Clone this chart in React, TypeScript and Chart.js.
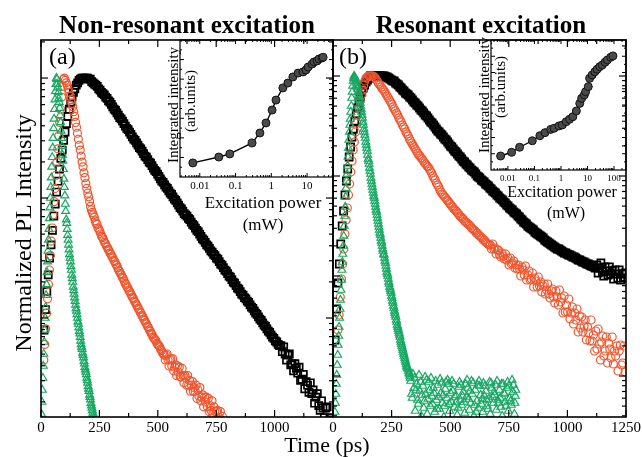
import React, { useEffect, useRef } from "react";
import { Chart, registerables } from "chart.js";
Chart.register(...registerables);

const W = 642;
const H = 457;
const SERIF = '"Liberation Serif", "Times New Roman", Times, serif';
const GREEN = "#16a862";
const RED = "#f0552d";
const BLACK = "#000000";

// Time-resolved PL, sampled on uniform time bins: time = start + i * step (ps),
// values are log10 of the normalized PL intensity read off the figure.

// ---------- Panel (a) non-resonant ----------
const aGreenStart = 2, aGreenStep = 2;
const aGreenLog = [
  -2.80,-2.70,-2.60,-2.50,-2.40,-2.30,-2.20,-2.10,-2.00,-1.91,-1.81,-1.72,-1.62,-1.53,-1.44,-1.35,-1.26,-1.17,-1.08,-1.00,-0.91,-0.83,-0.74,-0.66,-0.58,-0.50,-0.42,-0.34,-0.26,-0.18,-0.11,-0.05,0,
  -0.01,-0.05,-0.08,-0.12,-0.17,-0.20,-0.25,-0.31,-0.37,-0.44,-0.50,-0.57,-0.64,-0.69,-0.76,-0.84,-0.91,-0.98,-1.05,-1.11,-1.18,-1.21,-1.26,-1.31,-1.35,-1.39,-1.43,-1.47,-1.50,-1.53,-1.57,-1.60,-1.64,-1.67,-1.70,-1.74,-1.77,-1.80,-1.83,-1.86,-1.89,-1.92,-1.94,-1.97,-2.00,-2.03,-2.05,-2.08,-2.11,-2.13,-2.16,-2.19,-2.22,-2.24,-2.26,-2.29,-2.31,-2.33,-2.36,-2.38,-2.41,-2.43,-2.45,-2.47,-2.50,-2.52,-2.54,-2.57,-2.59,-2.61,-2.64,-2.66,-2.68,-2.71,-2.73,-2.75,-2.77,-2.79,-2.81,-2.83,-2.85,-2.87,
];
const aRedStart = 12, aRedStep = 4;
const aRedLog = [
  -2.35,-2.22,-2.09,-1.96,-1.84,-1.72,-1.60,-1.48,-1.36,-1.25,-1.14,-1.03,-0.92,-0.81,-0.70,-0.59,-0.48,-0.37,-0.26,-0.16,-0.07,-0.01,
  0,-0.02,-0.04,-0.06,-0.09,-0.12,-0.15,-0.18,-0.21,-0.24,-0.28,-0.32,-0.37,-0.41,-0.46,-0.51,-0.56,-0.60,-0.65,-0.70,-0.74,-0.79,-0.83,-0.88,-0.92,-0.96,-0.99,-1.03,-1.07,-1.10,-1.12,-1.14,-1.16,-1.19,-1.21,-1.22,-1.25,-1.26,-1.28,-1.30,-1.32,-1.33,-1.35,-1.37,-1.38,-1.40,-1.41,-1.43,-1.44,-1.46,-1.47,-1.49,-1.50,-1.52,-1.53,-1.55,-1.56,-1.58,-1.60,-1.61,-1.63,-1.64,-1.66,-1.67,-1.69,-1.71,-1.72,-1.74,-1.75,-1.77,-1.78,-1.80,-1.81,-1.83,-1.84,-1.86,-1.87,-1.89,-1.90,-1.92,-1.93,-1.95,-1.96,-1.98,-1.99,-2.01,-2.02,-2.04,-2.05,-2.07,-2.08,-2.10,-2.11,-2.13,-2.14,-2.16,-2.17,-2.18,-2.19,-2.21,-2.22,-2.23,-2.24,-2.26,-2.27,-2.29,-2.30,
  -2.31,-2.35,-2.31,-2.30,-2.35,-2.40,-2.35,-2.34,-2.40,-2.34,-2.44,-2.41,-2.39,-2.48,-2.40,-2.45,-2.41,-2.49,-2.49,-2.42,-2.48,-2.54,-2.48,-2.50,-2.56,-2.48,-2.56,-2.52,-2.61,-2.56,-2.53,-2.61,-2.58,-2.61,-2.56,-2.67,-2.60,-2.65,-2.58,-2.69,-2.66,-2.64,-2.74,-2.66,-2.70,-2.66,-2.74,-2.67,-2.78,-2.73,-2.77,-2.69,-2.80,-2.74,-2.78,-2.85,-2.78,-2.77,-2.85,-2.83,-2.78,-2.89,-2.82,-2.88,
];
const aBlackStart = 13, aBlackStep = 6;
const aBlackLog = [
  -2.10,-1.93,-1.78,-1.64,-1.50,-1.39,-1.27,-1.15,-1.05,-0.95,-0.86,-0.76,-0.67,-0.60,-0.52,-0.45,-0.38,-0.32,-0.26,-0.21,-0.16,-0.12,-0.09,-0.06,-0.04,-0.02,-0.01,0,0,0,0,0,-0.01,-0.01,-0.03,-0.04,-0.05,-0.06,-0.07,-0.09,-0.10,-0.12,-0.13,-0.14,-0.16,-0.17,-0.19,-0.20,-0.22,-0.24,-0.26,-0.27,-0.29,-0.31,-0.33,-0.34,-0.36,-0.38,-0.40,-0.42,-0.43,-0.45,-0.47,-0.49,-0.51,-0.52,-0.54,-0.56,-0.58,-0.59,-0.61,-0.63,-0.65,-0.66,-0.68,-0.70,-0.71,-0.73,-0.75,-0.77,-0.78,-0.80,-0.82,-0.84,-0.86,-0.87,-0.89,-0.91,-0.92,-0.94,-0.96,-0.97,-0.99,-1.01,-1.02,-1.04,-1.06,-1.08,-1.09,-1.11,-1.13,-1.14,-1.15,-1.17,-1.18,-1.20,-1.22,-1.23,-1.25,-1.27,-1.28,-1.30,-1.32,-1.34,-1.35,-1.37,-1.39,-1.40,-1.42,-1.44,-1.45,-1.47,-1.48,-1.50,-1.51,-1.53,-1.55,-1.56,-1.58,-1.60,-1.61,-1.63,-1.65,-1.66,-1.68,-1.70,-1.71,-1.73,-1.75,-1.76,-1.78,-1.80,-1.81,-1.83,-1.84,-1.86,-1.87,-1.89,-1.91,-1.92,-1.94,-1.96,-1.97,-1.99,-2.01,-2.02,-2.04,-2.06,-2.07,-2.09,-2.11,-2.12,-2.14,-2.16,-2.17,-2.19,-2.20,-2.22,-2.23,
  -2.23,-2.28,-2.24,-2.30,-2.35,-2.31,-2.30,-2.39,-2.38,-2.44,-2.38,-2.42,-2.46,-2.41,-2.52,-2.51,-2.47,-2.59,-2.53,-2.56,-2.62,-2.54,-2.63,-2.60,-2.71,-2.66,-2.63,-2.73,-2.77,-2.69,-2.75,-2.83,-2.75,-2.74,-2.86,-2.83,-2.90,-2.85,
];

// ---------- Panel (b) resonant ----------
const bGreenStart = 8, bGreenStep = 2;
const bGreenLog = [
  -3.36,-3.27,-3.18,-3.08,-2.99,-2.89,-2.79,-2.69,-2.60,-2.51,-2.42,-2.33,-2.24,-2.14,-2.04,-1.94,-1.86,-1.78,-1.70,-1.60,-1.50,-1.40,-1.31,-1.21,-1.12,-1.05,-0.98,-0.90,-0.81,-0.72,-0.64,-0.56,-0.49,-0.43,-0.36,-0.30,-0.22,-0.16,-0.10,-0.05,-0.02,0,
  -0.01,-0.02,-0.03,-0.05,-0.07,-0.09,-0.11,-0.13,-0.16,-0.18,-0.21,-0.24,-0.27,-0.30,-0.33,-0.36,-0.39,-0.42,-0.46,-0.49,-0.53,-0.56,-0.59,-0.62,-0.66,-0.69,-0.72,-0.75,-0.79,-0.83,-0.85,-0.88,-0.92,-0.95,-0.98,-1.02,-1.05,-1.08,-1.11,-1.14,-1.17,-1.20,-1.22,-1.25,-1.28,-1.31,-1.34,-1.36,-1.39,-1.42,-1.45,-1.48,-1.51,-1.54,-1.57,-1.59,-1.62,-1.65,-1.67,-1.70,-1.73,-1.75,-1.78,-1.79,-1.82,-1.85,-1.87,-1.90,-1.93,-1.96,-1.98,-2.00,-2.03,-2.06,-2.08,-2.11,-2.13,-2.15,-2.17,-2.20,-2.22,-2.25,-2.27,-2.30,-2.32,-2.35,-2.37,-2.39,-2.41,-2.44,-2.46,-2.49,-2.51,-2.53,-2.55,-2.57,-2.59,-2.61,-2.64,-2.66,-2.68,-2.70,-2.72,-2.74,-2.76,-2.78,-2.80,-2.82,-2.84,-2.86,-2.88,-2.90,-2.91,-2.92,-2.93,-2.95,-2.97,-2.98,-3.00,-3.02,
];
// noise floor of the resonant green trace: [time (ps), log10 intensity]
const bGreenNoise: [number, number][] = [
  [332,-3.05],[338,-3.22],[345,-3.12],[351,-3.35],[357,-3.08],[364,-3.28],[370,-3.15],[377,-3.40],[383,-3.10],[390,-3.25],[396,-3.18],[402,-3.38],[409,-3.06],[415,-3.30],[422,-3.20],[428,-3.12],[434,-3.36],[441,-3.24],[447,-3.09],[454,-3.33],[460,-3.17],[466,-3.27],[473,-3.41],[479,-3.13],[486,-3.22],[492,-3.08],[498,-3.35],[505,-3.26],[511,-3.15],[518,-3.31],[524,-3.19],[530,-3.39],[537,-3.11],[543,-3.24],[550,-3.29],[556,-3.16],[562,-3.37],[569,-3.21],[575,-3.12],[582,-3.34],[588,-3.27],[594,-3.18],[601,-3.40],[607,-3.14],[614,-3.25],[620,-3.32],[626,-3.10],[633,-3.28],[639,-3.36],[646,-3.20],[652,-3.15],[658,-3.30],[665,-3.23],[671,-3.38],[678,-3.12],[684,-3.27],[690,-3.19],[697,-3.34],[703,-3.24],[710,-3.14],[716,-3.31],[722,-3.40],[729,-3.17],[735,-3.26],[742,-3.12],[748,-3.35],[754,-3.22],[761,-3.29],[767,-3.16],[774,-3.38],[780,-3.14],
  [335,-3.18],[348,-3.02],[361,-3.24],[374,-3.06],[387,-3.32],[399,-3.04],[412,-3.14],[425,-3.28],[438,-3.05],[451,-3.21],[463,-3.07],[476,-3.30],[489,-3.04],[502,-3.17],[515,-3.08],[527,-3.26],[540,-3.06],[553,-3.20],[566,-3.08],[579,-3.23],[591,-3.05],[604,-3.29],[617,-3.09],[630,-3.19],[642,-3.07],[655,-3.24],[668,-3.06],[681,-3.21],[694,-3.09],[706,-3.27],[719,-3.08],[732,-3.18],[745,-3.06],[758,-3.25],[770,-3.09],[778,-3.20],
  [341,-2.98],[354,-3.14],[367,-2.99],[380,-3.19],[393,-3.01],[405,-3.23],[418,-3.02],[431,-3.17],[444,-3.33],[457,-3.03],[470,-3.19],[482,-3.06],[495,-3.28],[508,-3.05],[521,-3.21],[534,-3.32],[546,-3.09],[559,-3.26],[572,-3.04],[585,-3.15],[598,-3.07],[611,-3.36],[623,-3.05],[636,-3.23],[649,-3.10],[661,-3.33],[674,-3.07],[687,-3.16],[700,-3.05],[713,-3.22],[726,-3.08],[738,-3.30],[751,-3.10],[764,-3.04],[776,-3.27],
];
const bRedStart = 21, bRedStep = 5;
const bRedLog = [
  -2.54,-2.39,-2.21,-2.03,-1.88,-1.73,-1.58,-1.44,-1.32,-1.19,-1.08,-0.96,-0.85,-0.74,-0.66,-0.56,-0.47,-0.39,-0.32,-0.25,-0.19,-0.14,-0.09,-0.05,-0.02,-0.01,0,0,0,0,0,-0.01,-0.02,-0.04,-0.06,-0.08,-0.09,-0.11,-0.13,-0.14,-0.16,-0.18,-0.20,-0.22,-0.24,-0.26,-0.28,-0.31,-0.33,-0.35,-0.37,-0.39,-0.42,-0.44,-0.46,-0.49,-0.51,-0.53,-0.56,-0.58,-0.60,-0.63,-0.65,-0.67,-0.69,-0.71,-0.73,-0.75,-0.77,-0.79,-0.80,-0.82,-0.83,-0.85,-0.87,-0.88,-0.90,-0.91,-0.93,-0.95,-0.97,-1.00,-1.02,-1.04,-1.07,-1.09,-1.11,-1.14,-1.16,-1.18,-1.19,-1.21,-1.22,-1.24,-1.25,-1.27,-1.28,-1.30,-1.31,-1.33,-1.34,-1.35,-1.37,-1.38,-1.40,-1.41,-1.42,-1.43,-1.45,-1.46,-1.47,-1.48,-1.49,-1.50,-1.52,-1.53,-1.54,-1.55,-1.57,-1.57,-1.59,-1.60,-1.61,-1.62,-1.64,-1.64,-1.66,-1.67,-1.68,-1.69,
  -1.69,-1.73,-1.68,-1.73,-1.72,-1.78,-1.74,-1.74,-1.79,-1.81,-1.77,-1.80,-1.83,-1.78,-1.84,-1.82,-1.89,-1.82,-1.88,-1.87,-1.85,-1.92,-1.89,-1.93,-1.89,-1.93,-2.00,-1.91,-1.94,-1.99,-1.90,-2.04,-1.99,-1.95,-2.04,-2.03,-1.97,-2.11,-2.02,-2.05,-2.11,-2.01,-2.10,-2.06,-2.16,-2.10,-2.08,-2.18,-2.14,-2.08,-2.18,-2.22,-2.15,-2.13,-2.21,-2.27,-2.15,-2.21,-2.29,-2.14,-2.26,-2.22,-2.37,-2.20,-2.36,-2.29,-2.36,-2.23,-2.43,-2.37,-2.31,-2.48,-2.37,-2.44,-2.33,-2.56,-2.40,-2.52,-2.41,-2.56,-2.50,-2.44,-2.64,-2.51,-2.57,-2.65,-2.44,-2.65,-2.59,-2.75,-2.55,-2.73,-2.53,-2.68,-2.84,-2.66,-2.60,-2.80,-2.75,-2.61,-2.87,-2.67,-2.73,-2.82,-2.61,-2.88,-2.75,-2.80,-2.70,-2.95,-2.75,-2.69,-2.89,-2.87,-2.70,-2.96,
];
const bBlackStart = 9, bBlackStep = 6;
const bBlackLog = [
  -2.64,-2.33,-2.07,-1.88,-1.68,-1.50,-1.35,-1.19,-1.05,-0.93,-0.81,-0.71,-0.61,-0.53,-0.45,-0.38,-0.32,-0.26,-0.21,-0.16,-0.12,-0.09,-0.06,-0.04,-0.02,0,0,0,0,0,0,0,0,0,0,0,-0.01,-0.01,-0.02,-0.03,-0.04,-0.05,-0.05,-0.07,-0.08,-0.09,-0.11,-0.12,-0.14,-0.15,-0.17,-0.18,-0.19,-0.21,-0.22,-0.24,-0.26,-0.27,-0.29,-0.30,-0.32,-0.34,-0.35,-0.37,-0.39,-0.40,-0.42,-0.44,-0.46,-0.47,-0.49,-0.51,-0.53,-0.55,-0.56,-0.58,-0.59,-0.61,-0.63,-0.64,-0.66,-0.68,-0.70,-0.71,-0.73,-0.75,-0.76,-0.78,-0.80,-0.81,-0.83,-0.85,-0.86,-0.88,-0.89,-0.91,-0.92,-0.94,-0.95,-0.96,-0.98,-1.00,-1.01,-1.02,-1.04,-1.05,-1.06,-1.08,-1.09,-1.10,-1.12,-1.13,-1.15,-1.16,-1.17,-1.19,-1.20,-1.22,-1.23,-1.24,-1.26,-1.27,-1.29,-1.30,-1.32,-1.33,-1.34,-1.36,-1.37,-1.38,-1.40,-1.41,-1.43,-1.44,-1.46,-1.47,-1.48,-1.50,-1.51,-1.52,-1.53,-1.54,-1.56,-1.57,-1.58,-1.59,-1.60,-1.61,-1.62,-1.64,-1.65,-1.66,-1.67,-1.68,-1.69,-1.70,-1.71,-1.72,-1.73,-1.73,-1.74,-1.75,-1.76,-1.77,-1.77,-1.78,-1.79,-1.79,-1.80,-1.81,-1.81,-1.82,-1.83,-1.84,-1.84,-1.85,-1.86,-1.86,-1.87,-1.88,-1.88,-1.89,-1.90,-1.90,-1.91,-1.92,
  -1.89,-1.97,-1.92,-1.87,-1.96,-2.00,-1.91,-1.95,-1.99,-1.91,-1.98,-1.95,-2.03,-1.94,-1.98,-2.02,-1.94,-2.04,-1.98,-2.02,-1.97,
];

// ---------- Insets: [excitation power (mW), integrated intensity (arb. units)] ----------
const aInset: [number, number][] = [
  [0.0064,0.72],[0.034,1.02],[0.069,1.18],[0.29,1.74],[0.48,2.25],[0.71,2.76],[1.05,3.42],[1.35,3.93],[2.1,4.55],[2.9,4.80],[4.0,5.11],[5.6,5.31],[7.7,5.37],[9.3,5.47],[10.7,5.62],[13.8,5.77],[15.6,5.88],[19,5.93],[21.5,6.03],[26,6.08],[28,6.12],
];
const bInset: [number, number][] = [
  [0.0053,0.86],[0.0138,1.09],[0.0275,1.40],[0.083,1.80],[0.16,2.11],[0.25,2.30],[0.41,2.50],[0.55,2.57],[0.84,2.71],[1.12,2.77],[1.58,2.97],[2.1,3.12],[2.8,3.28],[3.8,3.63],[5.1,4.10],[6.0,4.41],[7.6,4.62],[8.5,4.82],[10.7,5.13],[12,5.64],[15,5.85],[19,6.05],[23,6.20],[29,6.36],[36,6.46],[46,6.63],[56,6.77],[75,6.94],[91,7.02],
];

const timeTicks = [0, 250, 500, 750, 1000, 1250];
const timeMinorTicks = [125, 375, 625, 875, 1125];
const timeLabelsA = ["0", "250", "500", "750", "1000", ""];
const timeLabelsB = ["0", "250", "500", "750", "1000", "1250"];
const powerTicks = [0.01, 0.1, 1, 10, 100];
const powerLabels = ["0.01", "0.1", "1", "10", "100"];

function logMajor(min: number, max: number) {
  const out: number[] = [];
  for (let e = Math.floor(Math.log10(min)); e <= Math.ceil(Math.log10(max)); e++) {
    const v = Math.pow(10, e);
    if (v >= min && v <= max) out.push(v);
  }
  return out;
}
function logMinor(min: number, max: number) {
  const out: number[] = [];
  for (let e = Math.floor(Math.log10(min)); e <= Math.ceil(Math.log10(max)); e++) {
    for (let k = 2; k <= 9; k++) {
      const v = k * Math.pow(10, e);
      if (v >= min && v <= max) out.push(v);
    }
  }
  return out;
}
function range(a: number, b: number, s: number) {
  const out: number[] = [];
  for (let v = a; v <= b + 1e-9; v += s) out.push(v);
  return out;
}

type TextItem = { text: string; x: number; y: number; font: string; align?: CanvasTextAlign; rotate?: boolean };

const decoPlugin = {
  id: "deco",
  afterDraw(chart: any, _args: any, o: any) {
    if (!o || !o.on) return;
    const { ctx, chartArea: a, scales } = chart;
    const sx = scales.x;
    const sy = scales.y;
    ctx.save();
    ctx.strokeStyle = "#000";
    ctx.fillStyle = "#000";
    const line = (x1: number, y1: number, x2: number, y2: number) => {
      ctx.beginPath();
      ctx.moveTo(x1, y1);
      ctx.lineTo(x2, y2);
      ctx.stroke();
    };
    ctx.lineWidth = o.tickWidth;
    const xs: [number[], number][] = [[o.xMajor, o.majorLen], [o.xMinor, o.minorLen]];
    for (const [vals, len] of xs) {
      for (const v of vals) {
        const px = sx.getPixelForValue(v);
        if (px < a.left - 0.5 || px > a.right + 0.5) continue;
        line(px, a.bottom, px, a.bottom - len);
        line(px, a.top, px, a.top + len);
      }
    }
    const ys: [number[], number][] = [[o.yMajor, o.majorLen], [o.yMinor, o.minorLen]];
    for (const [vals, len] of ys) {
      for (const v of vals) {
        const py = sy.getPixelForValue(v);
        if (py < a.top - 0.5 || py > a.bottom + 0.5) continue;
        line(a.left, py, a.left + len, py);
        line(a.right, py, a.right - len, py);
      }
    }
    ctx.lineWidth = o.frameWidth;
    ctx.strokeRect(a.left, a.top, a.right - a.left, a.bottom - a.top);
    if (o.xLabels) {
      ctx.font = o.labelFont;
      ctx.textAlign = "center";
      ctx.textBaseline = "alphabetic";
      o.xMajor.forEach((v: number, i: number) => {
        const t = o.xLabels[i];
        if (!t) return;
        ctx.fillText(t, sx.getPixelForValue(v), o.labelBaseline);
      });
    }
    (o.texts || []).forEach((t: TextItem) => {
      ctx.save();
      ctx.font = t.font;
      ctx.textAlign = t.align || "center";
      ctx.textBaseline = "alphabetic";
      ctx.translate(t.x, t.y);
      if (t.rotate) ctx.rotate(-Math.PI / 2);
      ctx.fillText(t.text, 0, 0);
      ctx.restore();
    });
    ctx.restore();
  },
};

const binned = (start: number, step: number, logs: number[]) =>
  logs.map((l, i) => ({ x: start + i * step, y: Math.pow(10, l) }));
const paired = (arr: [number, number][]) => arr.map(([t, l]) => ({ x: t, y: Math.pow(10, l) }));

function markerSet(data: { x: number; y: number }[], style: string, color: string, radius: number, bw: number) {
  return {
    data,
    showLine: false,
    pointStyle: style,
    pointRadius: radius,
    pointBorderWidth: bw,
    pointBorderColor: color,
    pointBackgroundColor: "rgba(0,0,0,0)",
    borderColor: color,
    backgroundColor: "rgba(0,0,0,0)",
  };
}

const pageTexts: TextItem[] = [
  { text: "Non-resonant excitation", x: 187, y: 33, font: `bold 25px ${SERIF}` },
  { text: "Resonant excitation", x: 481, y: 33, font: `bold 25px ${SERIF}` },
  { text: "(a)", x: 49, y: 64, font: `24px ${SERIF}`, align: "left" },
  { text: "(b)", x: 339, y: 64, font: `24px ${SERIF}`, align: "left" },
  { text: "Time (ps)", x: 327, y: 452, font: `22px ${SERIF}` },
  { text: "Normalized PL Intensity", x: 31, y: 233, font: `24px ${SERIF}`, rotate: true },
];
const insetATexts: TextItem[] = [
  { text: "Integrated intensity", x: 178, y: 105, font: `15px ${SERIF}`, rotate: true },
  { text: "(arb.units)", x: 195, y: 101, font: `15px ${SERIF}`, rotate: true },
  { text: "Excitation power", x: 263, y: 208, font: `17px ${SERIF}` },
  { text: "(mW)", x: 263, y: 230, font: `17px ${SERIF}` },
];
const insetBTexts: TextItem[] = [
  { text: "Integrated intensity", x: 489, y: 95, font: `15px ${SERIF}`, rotate: true },
  { text: "(arb.units)", x: 505, y: 87, font: `15px ${SERIF}`, rotate: true },
  { text: "Excitation power", x: 562, y: 197, font: `16px ${SERIF}` },
  { text: "(mW)", x: 566, y: 218, font: `16px ${SERIF}` },
];

function mainConfig(
  green: { x: number; y: number }[], red: { x: number; y: number }[], black: { x: number; y: number }[],
  yMinLog: number, yMaxLog: number, left: number, right: number, labels: string[], texts: TextItem[]
): any {
  const ymin = Math.pow(10, yMinLog);
  const ymax = Math.pow(10, yMaxLog);
  return {
    type: "scatter",
    data: {
      datasets: [
        markerSet(green, "triangle", GREEN, 4.5, 1.2),
        markerSet(red, "circle", RED, 4, 1.2),
        markerSet(black, "rect", BLACK, 5, 1.7),
      ],
    },
    options: {
      animation: false,
      responsive: false,
      devicePixelRatio: 1,
      events: [],
      layout: { padding: { left, right: W - right, top: 40, bottom: H - 417 } },
      plugins: {
        legend: { display: false },
        tooltip: { enabled: false },
        deco: {
          on: true,
          frameWidth: 1.6,
          tickWidth: 1.2,
          majorLen: 7,
          minorLen: 4,
          xMajor: timeTicks,
          xMinor: timeMinorTicks,
          xLabels: labels,
          labelFont: `15px ${SERIF}`,
          labelBaseline: 432,
          yMajor: logMajor(ymin, ymax),
          yMinor: logMinor(ymin, ymax),
          texts,
        },
      },
      scales: {
        x: { type: "linear", min: 0, max: 1250, display: false },
        y: { type: "logarithmic", min: ymin, max: ymax, display: false },
      },
    },
    plugins: [decoPlugin],
  };
}

function insetConfig(
  data: [number, number][], xmin: number, xmax: number, ymax: number,
  left: number, right: number, bottom: number, labelFont: string, labelBaseline: number, texts: TextItem[]
): any {
  return {
    type: "scatter",
    data: {
      datasets: [
        {
          data: data.map(([p, v]) => ({ x: p, y: v })),
          showLine: true,
          borderColor: "#000",
          borderWidth: 1.4,
          pointRadius: 4,
          pointBorderWidth: 1,
          pointBorderColor: "#111",
          pointBackgroundColor: "#4a4a4a",
          tension: 0,
        },
      ],
    },
    options: {
      animation: false,
      responsive: false,
      devicePixelRatio: 1,
      events: [],
      layout: { padding: { left, right: W - right, top: 40, bottom: H - bottom } },
      plugins: {
        legend: { display: false },
        tooltip: { enabled: false },
        deco: {
          on: true,
          frameWidth: 1.2,
          tickWidth: 1,
          majorLen: 4,
          minorLen: 2,
          xMajor: powerTicks.filter((v) => v >= xmin && v <= xmax),
          xMinor: logMinor(xmin, xmax),
          xLabels: powerLabels,
          labelFont,
          labelBaseline,
          yMajor: range(1, ymax - 1, 1),
          yMinor: range(0.5, ymax - 0.5, 1),
          texts,
        },
      },
      scales: {
        x: { type: "logarithmic", min: xmin, max: xmax, display: false },
        y: { type: "linear", min: 0, max: ymax, display: false },
      },
    },
    plugins: [decoPlugin],
  };
}

export default function App() {
  const r0 = useRef<HTMLCanvasElement>(null);
  const r1 = useRef<HTMLCanvasElement>(null);
  const r2 = useRef<HTMLCanvasElement>(null);
  const r3 = useRef<HTMLCanvasElement>(null);
  useEffect(() => {
    const configs = [
      mainConfig(
        binned(aGreenStart, aGreenStep, aGreenLog),
        binned(aRedStart, aRedStep, aRedLog),
        binned(aBlackStart, aBlackStep, aBlackLog),
        -2.825, 0.317, 41, 333, timeLabelsA, pageTexts
      ),
      mainConfig(
        binned(bGreenStart, bGreenStep, bGreenLog).concat(paired(bGreenNoise)),
        binned(bRedStart, bRedStep, bRedLog),
        binned(bBlackStart, bBlackStep, bBlackLog),
        -3.41, 0.36, 333, 626, timeLabelsB, []
      ),
      insetConfig(aInset, 0.0028, 53, 7, 180, 333, 177, `11px ${SERIF}`, 189, insetATexts),
      insetConfig(bInset, 0.0023, 283, 8, 491, 626, 170, `9px ${SERIF}`, 181, insetBTexts),
    ];
    const refs = [r0, r1, r2, r3];
    const charts = configs.map((c, i) => new Chart(refs[i].current as HTMLCanvasElement, c));
    return () => charts.forEach((c) => c.destroy());
  }, []);
  const cs: React.CSSProperties = { position: "absolute", left: 0, top: 0, width: W, height: H };
  return (
    <div style={{ position: "fixed", left: 0, top: 0, width: W, height: H, background: "#fff" }}>
      <canvas ref={r0} width={W} height={H} style={cs} />
      <canvas ref={r1} width={W} height={H} style={cs} />
      <canvas ref={r2} width={W} height={H} style={cs} />
      <canvas ref={r3} width={W} height={H} style={cs} />
    </div>
  );
}
